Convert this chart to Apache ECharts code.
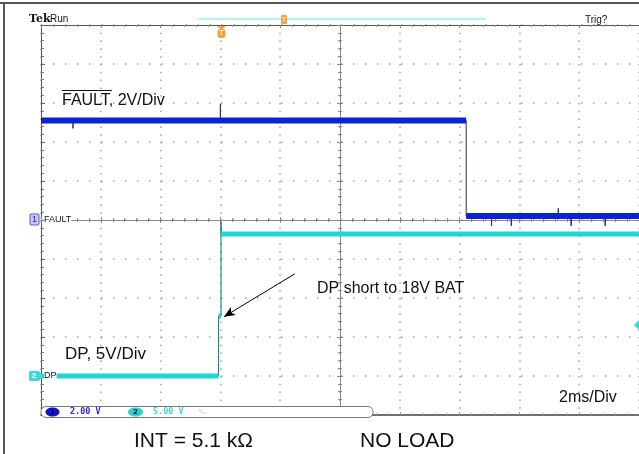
<!DOCTYPE html>
<html>
<head>
<meta charset="utf-8">
<script src="https://cdn.jsdelivr.net/npm/echarts@6/dist/echarts.min.js"></script>
<style>
html,body{margin:0;padding:0;background:#fff;}
#c{width:639px;height:454px;}
</style>
</head>
<body>
<div id="c"></div>
<script>
// ---- Data ----
// time axis: 2 ms/div, 10 divisions, centred on 0
const timeMin = -10, timeMax = 10, timeStep = 2;
// CH1 (FAULT) 2 V/div, ground at centre
const ch1Min = -10, ch1Max = 10, ch1Step = 2;
// CH2 (DP) 5 V/div, ground one division above bottom
const ch2Min = -5, ch2Max = 45, ch2Step = 5;

const ch1Time  = [-10, -8.93, -8.93, -8.93, -4.0, -4.0, -4.0, 4.22, 4.22, 5.07, 5.07, 5.07, 5.73, 5.73, 5.73, 7.3, 7.3, 7.3, 7.73, 7.73, 7.73, 8.87, 8.87, 8.87, 10];
const ch1Volts = [5.1, 5.1, 4.7, 5.1, 5.1, 5.95, 5.1, 5.1, 0.2, 0.2, -0.3, 0.2, 0.2, -0.3, 0.2, 0.2, 0.6, 0.2, 0.2, -0.3, 0.2, 0.2, -0.3, 0.2, 0.2];

const ch2Time  = [-10, -4.06, -4.06, -3.98, -3.98, -3.98, 10];
const ch2Volts = [0, 0, 7.7, 7.7, 19.8, 18.2, 18.2];

// arrow annotation (data coords on CH2 axis)
const arrowFrom = [-1.51, 13.1];
const arrowTo   = [-3.88, 7.6];

function pairs(t, v) { return t.map((x, i) => [x, v[i]]); }
function bandPairs(t, v) {
  const out = [];
  for (let i = 0; i < t.length; i++) {
    if (i > 0 && t[i] === t[i - 1]) out.push([t[i], '-']);
    out.push([t[i], v[i]]);
  }
  return out;
}

const GRID = {left: 41, top: 25, width: 600, height: 390};
const FONT = '"Liberation Sans", Arial, Helvetica, sans-serif';

const chart = echarts.init(document.getElementById('c'), null, {renderer: 'canvas'});

const hidden = {show: false};
const option = {
  animation: false,
  backgroundColor: '#ffffff',
  grid: Object.assign({containLabel: false}, GRID),
  xAxis: [
    { // main time axis, line on CH1 zero (centre crosshair), ticks up
      type: 'value', min: timeMin, max: timeMax, interval: timeStep,
      axisLine: {show: true, onZero: true, onZeroAxisIndex: 0, lineStyle: {color: '#8a8a8a', width: 1}},
      axisTick: {show: true, inside: true, length: 3, lineStyle: {color: '#8a8a8a'}},
      minorTick: {show: true, splitNumber: 5, length: 2, lineStyle: {color: '#8a8a8a'}},
      axisLabel: hidden,
      splitLine: {show: true, lineStyle: {color: '#a0a0a0', width: 1.5, type: [1.5, 6.3]}}
    },
    { // centre crosshair ticks pointing down
      type: 'value', min: timeMin, max: timeMax, interval: timeStep, position: 'bottom',
      axisLine: {show: false, onZero: true, onZeroAxisIndex: 0},
      axisTick: {show: true, inside: false, length: 3, lineStyle: {color: '#8a8a8a'}},
      minorTick: {show: true, splitNumber: 5, length: 2, lineStyle: {color: '#8a8a8a'}},
      axisLabel: hidden, splitLine: hidden
    },
    { // top edge
      type: 'value', min: timeMin, max: timeMax, interval: timeStep, position: 'top',
      axisLine: {show: true, onZero: false, lineStyle: {color: '#555', width: 1}},
      axisTick: {show: true, inside: true, length: 3, lineStyle: {color: '#888'}},
      minorTick: {show: true, splitNumber: 5, length: 2, lineStyle: {color: '#999'}},
      axisLabel: hidden, splitLine: hidden
    },
    { // bottom edge
      type: 'value', min: timeMin, max: timeMax, interval: timeStep, position: 'bottom',
      axisLine: {show: true, onZero: false, lineStyle: {color: '#707070', width: 2}},
      axisTick: {show: true, inside: true, length: 3, lineStyle: {color: '#999'}},
      minorTick: {show: true, splitNumber: 5, length: 2, lineStyle: {color: '#aaa'}},
      axisLabel: hidden, splitLine: hidden
    }
  ],
  yAxis: [
    { // CH1 axis, drawn as centre vertical crosshair, ticks right
      type: 'value', min: ch1Min, max: ch1Max, interval: ch1Step, position: 'left',
      axisLine: {show: true, onZero: true, onZeroAxisIndex: 0, lineStyle: {color: '#8a8a8a', width: 1}},
      axisTick: {show: true, inside: true, length: 3, lineStyle: {color: '#8a8a8a'}},
      minorTick: {show: true, splitNumber: 5, length: 2, lineStyle: {color: '#8a8a8a'}},
      axisLabel: hidden,
      splitLine: {show: true, lineStyle: {color: '#a0a0a0', width: 1.5, type: [1.5, 10.5]}}
    },
    { // CH2 axis, drawn as left edge
      type: 'value', min: ch2Min, max: ch2Max, interval: ch2Step, position: 'left',
      axisLine: {show: true, onZero: false, lineStyle: {color: '#555', width: 1}},
      axisTick: {show: true, inside: true, length: 4, lineStyle: {color: '#666'}},
      minorTick: {show: true, splitNumber: 5, length: 3, lineStyle: {color: '#777'}},
      axisLabel: hidden, splitLine: hidden
    },
    { // centre crosshair ticks pointing left
      type: 'value', min: ch1Min, max: ch1Max, interval: ch1Step, position: 'left',
      axisLine: {show: false, onZero: true, onZeroAxisIndex: 0},
      axisTick: {show: true, inside: false, length: 3, lineStyle: {color: '#8a8a8a'}},
      minorTick: {show: true, splitNumber: 5, length: 2, lineStyle: {color: '#8a8a8a'}},
      axisLabel: hidden, splitLine: hidden
    }
  ],
  series: [
    {
      name: 'FAULT edge', type: 'line', xAxisIndex: 0, yAxisIndex: 0, z: 3,
      data: pairs(ch1Time, ch1Volts), showSymbol: false, symbol: 'none',
      lineStyle: {color: '#25259a', width: 1}
    },
    {
      name: 'FAULT', type: 'line', xAxisIndex: 0, yAxisIndex: 0, z: 4,
      data: bandPairs(ch1Time, ch1Volts), showSymbol: false, symbol: 'none', connectNulls: false,
      lineStyle: {color: '#0b22d6', width: 6}
    },
    {
      name: 'DP edge', type: 'line', xAxisIndex: 0, yAxisIndex: 1, z: 3,
      data: pairs(ch2Time, ch2Volts), showSymbol: false, symbol: 'none',
      lineStyle: {color: '#007a7a', width: 1},
      markLine: {
        silent: true, symbol: ['none', 'arrow'], symbolSize: [7, 11],
        label: {show: false},
        lineStyle: {color: '#000', width: 1, type: 'solid'},
        data: [[{coord: arrowFrom}, {coord: arrowTo}]]
      }
    },
    {
      name: 'DP', type: 'line', xAxisIndex: 0, yAxisIndex: 1, z: 4,
      data: bandPairs(ch2Time, ch2Volts), showSymbol: false, symbol: 'none', connectNulls: false,
      lineStyle: {color: '#1fd6d6', width: 5}
    }
  ],
  graphic: [
    // outer frame
    {type: 'line', shape: {x1: 0, y1: 3, x2: 639, y2: 3}, style: {stroke: '#555', lineWidth: 2}, z: 10},
    {type: 'line', shape: {x1: 4, y1: 3, x2: 4, y2: 454}, style: {stroke: '#555', lineWidth: 2}, z: 10},
    // header
    {type: 'text', x: 29, y: 19, style: {text: 'Tek', font: 'bold 11px "DejaVu Serif", serif', fill: '#111', textVerticalAlign: 'middle'}, z: 10},
    {type: 'text', x: 50, y: 19, style: {text: 'Run', font: '10px ' + FONT, fill: '#111', textVerticalAlign: 'middle'}, z: 10},
    {type: 'line', shape: {x1: 199, y1: 19, x2: 486, y2: 19}, style: {stroke: '#5fe3e3', lineWidth: 1}, z: 10},
    {type: 'rect', shape: {x: 281, y: 15, width: 6, height: 9, r: 1}, style: {fill: '#f2a23a'}, z: 11},
    {type: 'text', x: 284, y: 20, style: {text: 'T', font: 'bold 7px ' + FONT, fill: '#ffe2b0', textAlign: 'center', textVerticalAlign: 'middle'}, z: 12},
    {type: 'text', x: 585, y: 20, style: {text: 'Trig?', font: '10px ' + FONT, fill: '#111', textVerticalAlign: 'middle'}, z: 10},
    // trigger position marker
    {type: 'polygon', shape: {points: [[217, 26], [226, 26], [221.5, 30]]}, style: {fill: '#f2a23a'}, z: 11},
    {type: 'rect', shape: {x: 217.5, y: 29, width: 8, height: 9, r: 3}, style: {fill: '#f2a23a'}, z: 11},
    {type: 'text', x: 221.5, y: 33.5, style: {text: 'T', font: 'bold 7px ' + FONT, fill: '#fff2dc', textAlign: 'center', textVerticalAlign: 'middle'}, z: 12},
    // CH1 ground marker
    {type: 'rect', shape: {x: 30, y: 214, width: 9, height: 11, r: 1}, style: {fill: '#c9c9ff', stroke: '#5555ee', lineWidth: 1}, z: 11},
    {type: 'text', x: 34.5, y: 220, style: {text: '1', font: '9px ' + FONT, fill: '#2222cc', textAlign: 'center', textVerticalAlign: 'middle'}, z: 12},
    {type: 'polyline', shape: {points: [[39, 216], [42, 220], [39, 224]]}, style: {stroke: '#b8b070', lineWidth: 1, fill: null}, z: 11},
    {type: 'text', x: 44, y: 220, style: {text: 'FAULT', font: '9px ' + FONT, fill: '#111', textVerticalAlign: 'middle', backgroundColor: '#fff'}, z: 12},
    // CH2 ground marker
    {type: 'rect', shape: {x: 29, y: 371, width: 10, height: 10, r: 1}, style: {fill: '#3fd8d8'}, z: 11},
    {type: 'text', x: 34, y: 376, style: {text: '2', font: 'bold 8px ' + FONT, fill: '#fff', textAlign: 'center', textVerticalAlign: 'middle'}, z: 12},
    {type: 'polygon', shape: {points: [[39, 371], [43, 376], [39, 381]]}, style: {fill: '#3fd8d8'}, z: 11},
    {type: 'text', x: 44, y: 376, style: {text: 'DP', font: '9px ' + FONT, fill: '#111', textVerticalAlign: 'middle', backgroundColor: '#fff'}, z: 12},
    // trigger level marker at right edge
    {type: 'polygon', shape: {points: [[639, 320], [634, 325], [639, 330]]}, style: {fill: '#3fd8d8'}, z: 11},
    // annotations
    {type: 'text', x: 62, y: 101, style: {text: 'FAULT, 2V/Div', font: '16px ' + FONT, fill: '#111', textVerticalAlign: 'middle'}, z: 12},
    {type: 'line', shape: {x1: 62, y1: 90.5, x2: 112, y2: 90.5}, style: {stroke: '#111', lineWidth: 1.2}, z: 12},
    {type: 'text', x: 317, y: 288.5, style: {text: 'DP short to 18V BAT', font: '16px ' + FONT, fill: '#111', textVerticalAlign: 'middle'}, z: 12},
    {type: 'text', x: 65, y: 354, style: {text: 'DP, 5V/Div', font: '17px ' + FONT, fill: '#111', textVerticalAlign: 'middle'}, z: 12},
    {type: 'text', x: 559, y: 397.5, style: {text: '2ms/Div', font: '16px ' + FONT, fill: '#111', textVerticalAlign: 'middle'}, z: 12},
    {type: 'text', x: 134, y: 441.5, style: {text: 'INT = 5.1 kΩ', font: '21px ' + FONT, fill: '#111', textVerticalAlign: 'middle'}, z: 12},
    {type: 'text', x: 360, y: 441.5, style: {text: 'NO LOAD', font: '21px ' + FONT, fill: '#111', textVerticalAlign: 'middle'}, z: 12},
    // status bar
    {type: 'rect', shape: {x: 41, y: 406.5, width: 332, height: 11, r: [5, 5, 5, 5]}, style: {fill: '#fff', stroke: '#777', lineWidth: 1}, z: 13},
    {type: 'ellipse', shape: {cx: 52.5, cy: 412, rx: 7, ry: 4.5}, style: {fill: '#1010d8'}, z: 14},
    {type: 'text', x: 52.5, y: 412, style: {text: '1', font: 'bold 8px ' + FONT, fill: '#000', textAlign: 'center', textVerticalAlign: 'middle'}, z: 15},
    {type: 'text', x: 70, y: 412, style: {text: '2.00 V', font: 'bold 8.5px "DejaVu Sans Mono", monospace', fill: '#2a2ad8', textVerticalAlign: 'middle'}, z: 14},
    {type: 'ellipse', shape: {cx: 135.5, cy: 412, rx: 7.5, ry: 4.5}, style: {fill: '#2ad2d2'}, z: 14},
    {type: 'text', x: 135.5, y: 412, style: {text: '2', font: 'bold 8px ' + FONT, fill: '#000', textAlign: 'center', textVerticalAlign: 'middle'}, z: 15},
    {type: 'text', x: 153, y: 412, style: {text: '5.00 V', font: 'bold 8.5px "DejaVu Sans Mono", monospace', fill: '#3fd8d8', textVerticalAlign: 'middle'}, z: 14},
    {type: 'text', x: 199, y: 412, style: {text: 'ᴮᵥᵥ', font: '7px ' + FONT, fill: '#8fe6e6', textVerticalAlign: 'middle'}, z: 14}
  ]
};
chart.setOption(option);
</script>
</body>
</html>
